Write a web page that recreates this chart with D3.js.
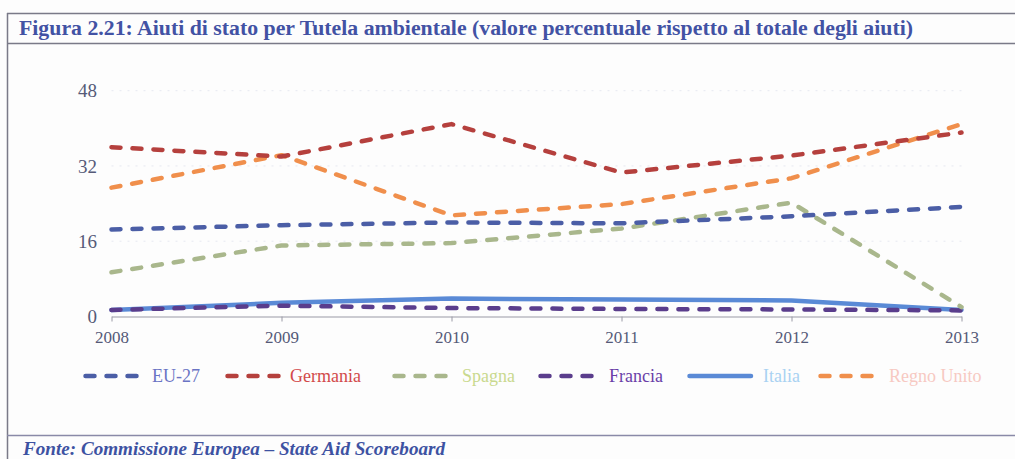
<!DOCTYPE html>
<html><head><meta charset="utf-8">
<script src="https://cdn.jsdelivr.net/npm/d3@7"></script>
<style>
html,body{margin:0;padding:0;background:#fdfdfd;}
svg{display:block;}
</style></head>
<body>
<svg id="chart" width="1015" height="459"></svg>
<script>
const years = ["2008","2009","2010","2011","2012","2013"];
const yTicks = [0, 16, 32, 48];
const seriesNames = ["EU-27","Germania","Spagna","Francia","Italia","Regno Unito"];
const eu27 =      [18.5, 19.4, 20.0, 19.8, 21.3, 23.3];
const germania =  [36.0, 34.0, 40.9, 30.6, 34.2, 39.1];
const spagna =    [9.4, 15.1, 15.6, 18.7, 24.2, 2.0];
const francia =   [1.4, 2.3, 1.8, 1.6, 1.5, 1.3];
const italia =    [1.4, 2.9, 3.8, 3.6, 3.4, 1.4];
const regnoUnito =[27.4, 34.3, 21.5, 23.9, 29.4, 40.9];
const titleText = "Figura 2.21: Aiuti di stato per Tutela ambientale (valore percentuale rispetto al totale degli aiuti)";
const sourceText = "Fonte: Commissione Europea \u2013 State Aid Scoreboard";

const seriesValues = [eu27, germania, spagna, francia, italia, regnoUnito];
const lineColors = ["#4b5ea6","#b5403d","#a9b78c","#5a3d8c","#5a8ad6","#f08f4c"];
const textColors = ["#6a74c4","#d24a4a","#c9d98e","#6a3fa8","#a9d2f2","#f7c9c2"];
const dashed = [true,true,true,true,false,true];
const FONT = "'Liberation Serif', 'Times New Roman', serif";

const svg = d3.select("#chart");

// frame
const frame = svg.append("g").attr("stroke","#7a7a88").attr("fill","none");
frame.append("line").attr("x1",7).attr("x2",1015).attr("y1",13.5).attr("y2",13.5).attr("stroke-width",1.5);
frame.append("line").attr("x1",7).attr("x2",1015).attr("y1",43.5).attr("y2",43.5).attr("stroke-width",1.5);
frame.append("line").attr("x1",7.5).attr("x2",7.5).attr("y1",13).attr("y2",459).attr("stroke-width",1.5);
frame.append("line").attr("x1",7).attr("x2",1015).attr("y1",435.5).attr("y2",435.5).attr("stroke-width",1.5).attr("stroke","#8a8aa8");

svg.append("text").attr("x",19).attr("y",35)
  .attr("font-family",FONT).attr("font-weight","bold")
  .attr("font-size",20).attr("fill","#4252a4")
  .attr("textLength",894).attr("lengthAdjust","spacingAndGlyphs")
  .text(titleText);

svg.append("text").attr("x",23).attr("y",455)
  .attr("font-family",FONT).attr("font-weight","bold").attr("font-style","italic")
  .attr("font-size",18).attr("fill","#3d52a2")
  .attr("textLength",422).attr("lengthAdjust","spacingAndGlyphs")
  .text(sourceText);

const x = d3.scalePoint().domain(years).range([111.5, 961.5]);
const y = d3.scaleLinear().domain([0,48]).range([316.5, 90.7]);

// gridlines
svg.append("g").selectAll("line").data(yTicks.filter(d=>d>0)).join("line")
  .attr("x1",111.5).attr("x2",961.5)
  .attr("y1",d=>y(d)).attr("y2",d=>y(d))
  .attr("stroke","#e6e8f0").attr("stroke-width",1).attr("stroke-dasharray","2,6");

// y axis labels
const yAxis = svg.append("g").attr("transform","translate(97,0)")
  .call(d3.axisLeft(y).tickValues(yTicks).tickSize(0).tickPadding(0).tickFormat(d3.format("d")));
yAxis.select(".domain").remove();
yAxis.selectAll("text").attr("font-family",FONT)
  .attr("font-size",19).attr("fill","#555a78");

// x axis
const xAxis = svg.append("g").attr("transform","translate(0,316.5)")
  .call(d3.axisBottom(x).tickSize(5).tickSizeOuter(0).tickPadding(9));
xAxis.select(".domain").attr("stroke","#9a9aa6").attr("stroke-width",1.2);
xAxis.selectAll(".tick line").attr("stroke","#9a9aa6");
xAxis.selectAll("text").attr("font-family",FONT)
  .attr("font-size",17).attr("fill","#555a78");

const line = d3.line().x((d,i)=>x(years[i])).y(d=>y(d));
const order = [4,3,2,0,5,1];
order.forEach(k=>{
  svg.append("path").datum(seriesValues[k])
    .attr("d",line).attr("fill","none")
    .attr("stroke",lineColors[k]).attr("stroke-width",4.5)
    .attr("stroke-linecap","round").attr("stroke-linejoin","round")
    .attr("stroke-dasharray",dashed[k]?"9,12":null);
});

// legend
const legendX = [83, 225, 392, 538, 687, 818];
const swW = [59, 55, 60, 61, 66, 61];
const lg = svg.append("g");
seriesNames.forEach((name,k)=>{
  const g = lg.append("g");
  g.append("line").attr("x1",legendX[k]+2.5).attr("x2",dashed[k]?legendX[k]+2.5+51:legendX[k]+swW[k]-2)
    .attr("y1",376).attr("y2",376)
    .attr("stroke",lineColors[k]).attr("stroke-width",4.5).attr("stroke-linecap","round")
    .attr("stroke-dasharray",dashed[k]?"9,12":null);
  g.append("text").attr("x",legendX[k]+swW[k]+10).attr("y",382)
    .attr("font-family",FONT)
    .attr("font-size",18).attr("fill",textColors[k]).text(name);
});
</script>
</body></html>
